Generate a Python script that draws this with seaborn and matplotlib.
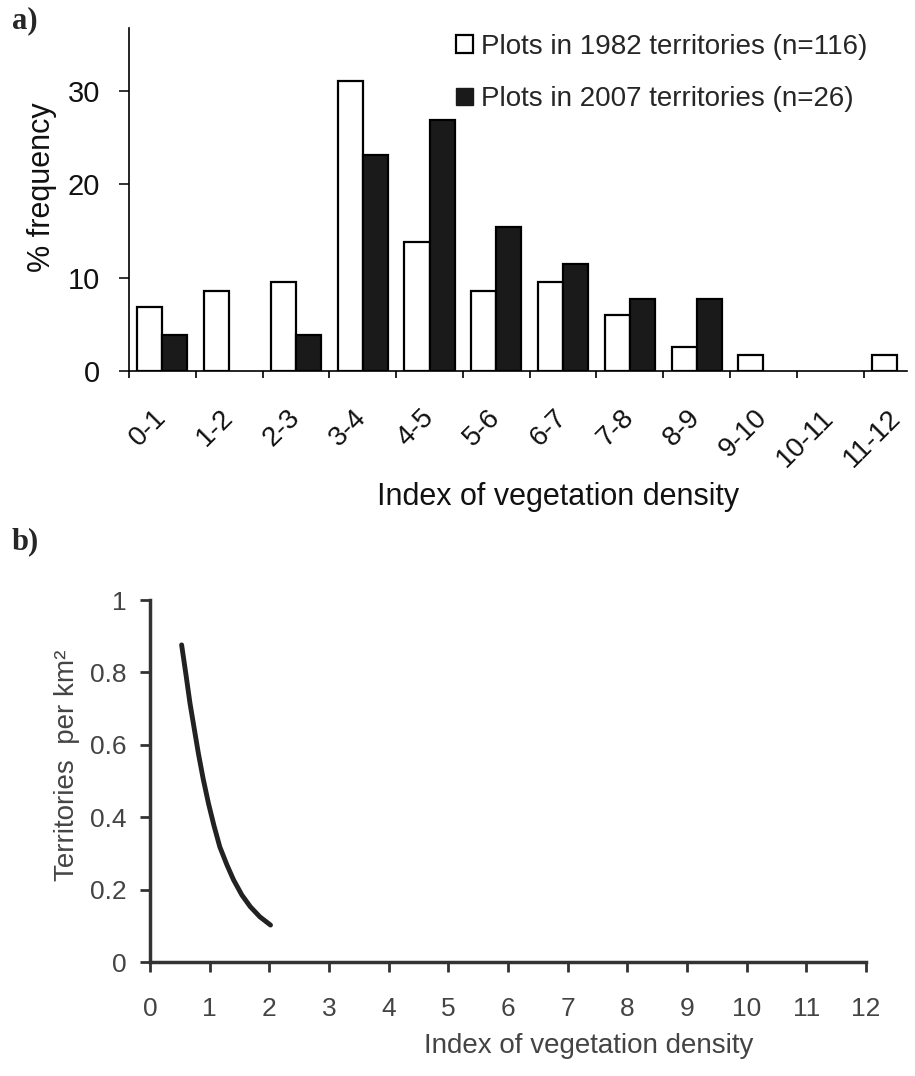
import pandas as pd
import matplotlib.pyplot as plt
import seaborn as sns
from matplotlib.patches import Patch

# Dati pannello a) (% frequenza per classe di densità)
categories = ['0-1', '1-2', '2-3', '3-4', '4-5', '5-6', '6-7', '7-8', '8-9', '9-10', '10-11', '11-12']
freq_1982 = [6.9, 8.6, 9.5, 31.0, 13.8, 8.6, 9.5, 6.0, 2.6, 1.7, 0.0, 1.7]
freq_2007 = [3.8, 0.0, 3.8, 23.1, 26.9, 15.4, 11.5, 7.7, 7.7, 0.0, 0.0, 0.0]
series_names = ['Plots in 1982 territories (n=116)', 'Plots in 2007 territories (n=26)']

# Dati pannello b) (curva letta dal grafico)
curve_x = [0.53, 0.60, 0.67, 0.74, 0.81, 0.89, 0.98, 1.07, 1.17, 1.29, 1.40, 1.54, 1.68, 1.84, 2.02]
curve_y = [0.876, 0.797, 0.715, 0.646, 0.577, 0.507, 0.438, 0.378, 0.318, 0.268, 0.227, 0.185, 0.153, 0.125, 0.102]
xticks_b = list(range(0, 13))
yticks_b = [0, 0.2, 0.4, 0.6, 0.8, 1]
yticklabels_b = ['0', '0.2', '0.4', '0.6', '0.8', '1']

df = pd.DataFrame({
    'cat': categories * 2,
    'serie': [series_names[0]] * len(categories) + [series_names[1]] * len(categories),
    'freq': freq_1982 + freq_2007,
})

sns.set_style('ticks')
plt.rcParams['font.family'] = ['Liberation Sans', 'DejaVu Sans']

W, H = 915, 1076
fig = plt.figure(figsize=(W / 100, H / 100), dpi=100)

# ---- a) ----
ax1 = fig.add_axes([129 / W, 1 - 371 / H, (907 - 129) / W, (371 - 28) / H])
sns.barplot(data=df, x='cat', y='freq', hue='serie', hue_order=series_names,
            palette=['white', '#1a1a1a'], edgecolor='black', linewidth=1.6,
            width=0.75, saturation=1, legend=False, ax=ax1)
# niente contorno per le barre a zero
for p in ax1.patches:
    if p.get_height() == 0:
        p.set_linewidth(0)
        p.set_edgecolor('none')
ax1.set_xlim(-0.5, 11.15)
ax1.set_ylim(0, 36.7)
ax1.set_yticks([0, 10, 20, 30])
ax1.tick_params(axis='y', labelsize=21, length=7, width=1.2, pad=14, colors='#111')
ax1.set_xticks(range(len(categories)))
ax1.set_xticklabels(categories, rotation=45, ha='right', va='center',
                    rotation_mode='anchor', fontsize=20, color='#111')
ax1.tick_params(axis='x', which='major', length=0, pad=31)
ax1.set_xticks([i - 0.5 for i in range(len(categories))], minor=True)
ax1.tick_params(axis='x', which='minor', length=5, width=1.2, color='black')
for s in ['top', 'right']:
    ax1.spines[s].set_visible(False)
for s in ['left', 'bottom']:
    ax1.spines[s].set_linewidth(1.2)
    ax1.spines[s].set_color('black')
ax1.set_xlabel('Index of vegetation density', fontsize=22, va='center', color='#111')
ax1.xaxis.set_label_coords(0.551, -0.367)
ax1.set_ylabel('% frequency', fontsize=22, va='center', color='#111')
ax1.yaxis.set_label_coords(-0.112, 0.536)

handles = [Patch(facecolor='white', edgecolor='black', linewidth=1.6),
           Patch(facecolor='#1a1a1a', edgecolor='#1a1a1a')]
fig.legend(handles, series_names, loc='upper left',
           bbox_to_anchor=(456 / W, 1 - 34 / H), frameon=False, fontsize=20,
           handlelength=0.6, handleheight=0.6, handletextpad=0.3,
           labelspacing=0.95, borderpad=0, borderaxespad=0)

# ---- b) ----
ax2 = fig.add_axes([150 / W, 1 - 962 / H, (866 - 150) / W, (962 - 600) / H])
sns.lineplot(x=curve_x, y=curve_y, color='#222', linewidth=3.5, ax=ax2)
ax2.set_xlim(0, 12)
ax2.set_ylim(0, 1)
ax2.set_xticks(xticks_b)
ax2.set_yticks(yticks_b)
ax2.set_yticklabels(yticklabels_b)
ax2.tick_params(axis='both', labelsize=19, length=7, width=2, color='#333', labelcolor='#444')
ax2.tick_params(axis='x', pad=18)
ax2.tick_params(axis='y', pad=10)
for s in ['top', 'right']:
    ax2.spines[s].set_visible(False)
for s in ['left', 'bottom']:
    ax2.spines[s].set_linewidth(2.5)
    ax2.spines[s].set_color('#333')
ax2.set_xlabel('Index of vegetation density', fontsize=20, va='center', color='#444')
ax2.xaxis.set_label_coords(0.613, -0.232)
ax2.set_ylabel('Territories  per km²', fontsize=20, va='center', color='#444')
ax2.yaxis.set_label_coords(-0.116, 0.544)

fig.text(12 / W, 1 - 21 / H, 'a)', fontsize=22, fontweight='bold',
         family=['Liberation Serif', 'DejaVu Serif'], va='center')
fig.text(12 / W, 1 - 542 / H, 'b)', fontsize=22, fontweight='bold',
         family=['Liberation Serif', 'DejaVu Serif'], va='center')

fig.savefig('out.png', dpi=100, facecolor='white')
